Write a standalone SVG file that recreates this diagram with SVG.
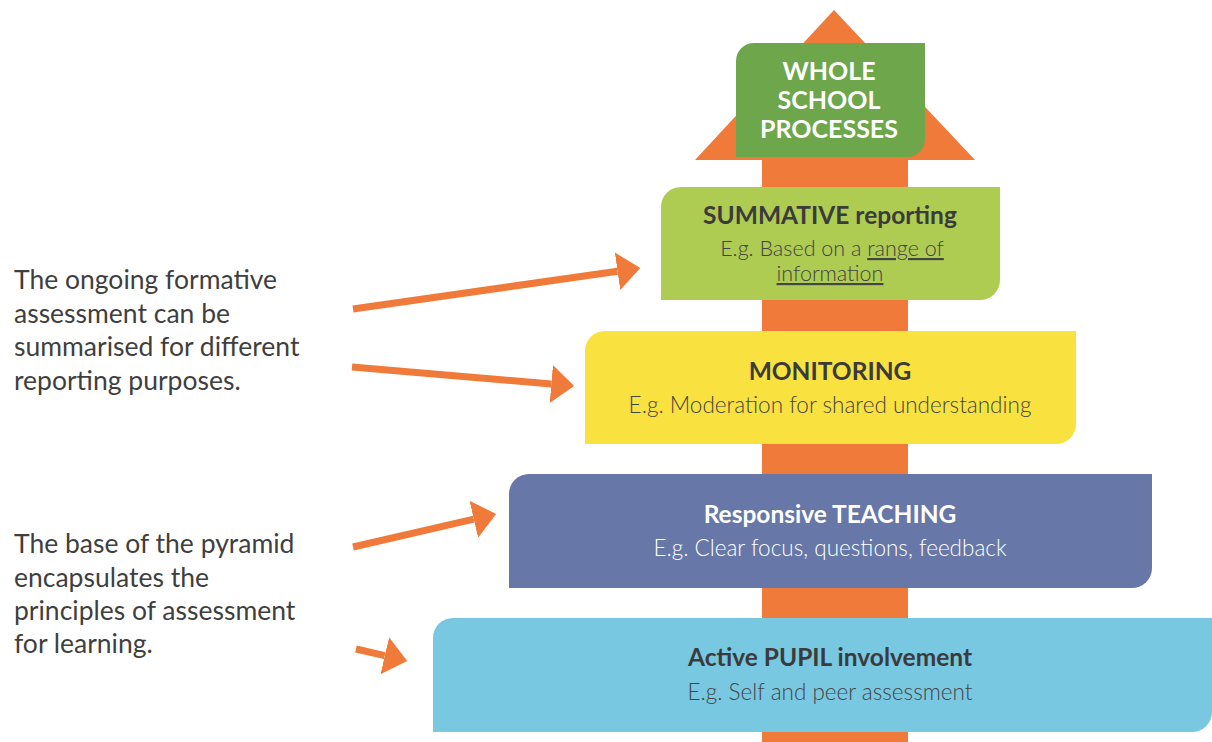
<svg xmlns="http://www.w3.org/2000/svg" width="1212" height="742" viewBox="0 0 1212 742">
  <style>
    .note { font-family: Lato, "Open Sans", "Liberation Sans", sans-serif; font-size: 26.5px; fill: #3f3f3f; }
    .title { font-family: Lato, "Open Sans", "Liberation Sans", sans-serif; font-size: 24.5px; font-weight: 700; fill: #3b3b3b; text-anchor: middle; }
    .head { font-size: 25px; }
    .sub { font-family: Lato, "Open Sans", "Liberation Sans", sans-serif; font-size: 22.5px; font-weight: 300; fill: #444444; text-anchor: middle; }
    .tight { font-size: 21.5px; }
    .light { fill: #ffffff; }
    .pointer { stroke: #ef7a3a; stroke-width: 7; fill: none; marker-end: url(#head); }
  </style>
  <defs>
    <marker id="head" markerUnits="userSpaceOnUse" markerWidth="24" markerHeight="38" refX="0" refY="19" orient="auto">
      <path d="M0,0 L23,19 L0,38 Z" fill="#ef7a3a"/>
    </marker>
  </defs>

  <rect width="1212" height="742" fill="#ffffff"/>

  <!-- large upward arrow behind the pyramid -->
  <g id="spine">
    <rect x="762" y="158" width="146" height="584" fill="#ef7a3a"/>
    <polygon points="834,10 975,160 695,160" fill="#ef7a3a"/>
  </g>

  <g id="node-whole-school">
    <path d="M754,43 H925 V139 A18,18 0 0 1 907,157 H736 V61 A18,18 0 0 1 754,43 Z" fill="#6ea64b"/>
    <text class="title head light" x="829" y="80">WHOLE</text>
    <text class="title head light" x="829" y="109">SCHOOL</text>
    <text class="title head light" x="829" y="138">PROCESSES</text>
  </g>

  <g id="node-summative">
    <path d="M681,187 H1000 V280 A20,20 0 0 1 980,300 H661 V207 A20,20 0 0 1 681,187 Z" fill="#aecb52"/>
    <text class="title" x="830" y="224">SUMMATIVE reporting</text>
    <text class="sub tight" x="832" y="256">E.g. Based on a <tspan text-decoration="underline">range of </tspan></text>
    <text class="sub tight" x="830" y="281" text-decoration="underline">information</text>
  </g>

  <g id="node-monitoring">
    <path d="M605,331 H1076 V424 A20,20 0 0 1 1056,444 H585 V351 A20,20 0 0 1 605,331 Z" fill="#f9e23f"/>
    <text class="title" x="830" y="380">MONITORING</text>
    <text class="sub" x="830" y="413">E.g. Moderation for shared understanding</text>
  </g>

  <g id="node-teaching">
    <path d="M529,474 H1152 V568 A20,20 0 0 1 1132,588 H509 V494 A20,20 0 0 1 529,474 Z" fill="#6677a8"/>
    <text class="title light" x="830" y="523">Responsive TEACHING</text>
    <text class="sub light" x="830" y="556">E.g. Clear focus, questions, feedback</text>
  </g>

  <g id="node-pupil">
    <path d="M453,618 H1212 V712 A20,20 0 0 1 1192,732 H433 V638 A20,20 0 0 1 453,618 Z" fill="#79c8e1"/>
    <text class="title" x="830" y="666">Active PUPIL involvement</text>
    <text class="sub" x="830" y="700">E.g. Self and peer assessment</text>
  </g>

  <g id="note-formative">
    <text class="note" x="14" y="289">The ongoing formative</text>
    <text class="note" x="14" y="323">assessment can be</text>
    <text class="note" x="14" y="356">summarised for different</text>
    <text class="note" x="14" y="390">reporting purposes.</text>
  </g>

  <g id="note-base">
    <text class="note" x="14" y="553">The base of the pyramid</text>
    <text class="note" x="14" y="587">encapsulates the</text>
    <text class="note" x="14" y="620">principles of assessment</text>
    <text class="note" x="14" y="653">for learning.</text>
  </g>

  <g id="connectors">
    <line class="pointer" x1="353" y1="309" x2="617.5" y2="271.3"/>
    <line class="pointer" x1="352" y1="367" x2="551.3" y2="384"/>
    <line class="pointer" x1="353" y1="547" x2="473.8" y2="519.2"/>
    <line class="pointer" x1="356" y1="649" x2="384.8" y2="655.7"/>
  </g>
</svg>
